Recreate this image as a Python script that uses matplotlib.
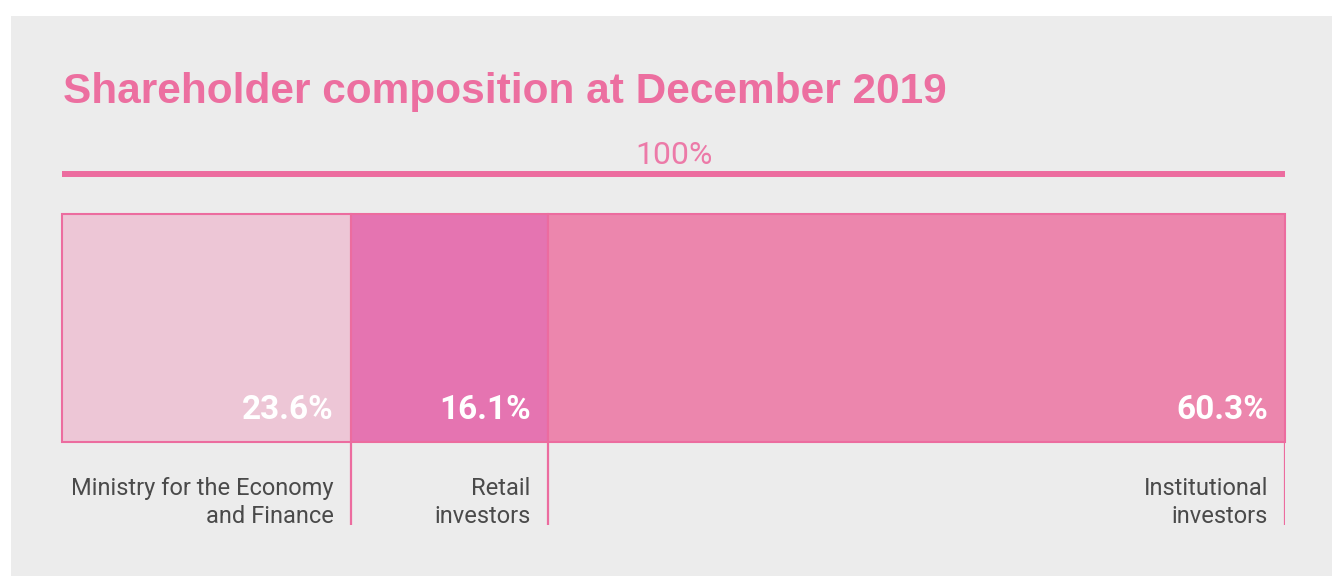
import matplotlib
matplotlib.use("Agg")
import matplotlib.pyplot as plt
from matplotlib.patches import Rectangle
from matplotlib.transforms import offset_copy
import numpy as np

# data
groups = ["Ministry for the Economy\nand Finance", "Retail\ninvestors", "Institutional\ninvestors"]
shares = [23.6, 16.1, 60.3]
total_label = "100%"
title = "Shareholder composition at December 2019"

# colours
bg = "#ececec"
pink_line = "#ec6c9f"
seg_colors = ["#edc6d6", "#e574b1", "#ec86ad"]
W, H = 1332, 576

fig = plt.figure(figsize=(W / 100, H / 100), dpi=100, facecolor="white")
fig.patches.append(Rectangle((11 / W, 0), 1, 1 - 16 / H, transform=fig.transFigure,
                             facecolor=bg, edgecolor="none", zorder=-5))

fig.text(63 / W, 1 - 103 / H, title, ha="left", va="baseline", fontsize=30.5,
         fontweight="bold", color="#ec6fa0", family="Liberation Sans")

# bar axes: x 62..1285 px, y 214..525 px
ax = fig.add_axes([62 / W, 1 - 525 / H, (1285 - 62) / W, (525 - 214) / H])
ax.set_facecolor("none")
ybot = -0.5 - (525 - 442) / 228
ax.set_xlim(0, 100)
ax.set_ylim(ybot, 0.5)
ax.axis("off")

shares = np.array(shares)
lefts = np.concatenate([[0], np.cumsum(shares)[:-1]])
rights = lefts + shares

ax.barh(0, shares, left=lefts, height=1, color=seg_colors, edgecolor=pink_line,
        linewidth=1.5, clip_on=False, zorder=2)
ax.vlines(rights, ybot, -0.5, color=pink_line, lw=1.6, zorder=3)

# total line + label
ytop = 0.5 + (214 - 174) / 228
ax.plot([0, 100], [ytop, ytop], color=pink_line, lw=4.3, solid_capstyle="butt", clip_on=False)
ax.text(50, 0.5 + (214 - 164) / 228, total_label, ha="center", va="baseline",
        fontsize=23, color="#ec7aa8", family="Roboto")

shift = offset_copy(ax.transData, fig=fig, x=-17, y=0, units="dots")
for r, v, g in zip(rights, shares, groups):
    ax.text(r, 0.5 - (419 - 214) / 228, f"{v:.1f}%", transform=shift, ha="right",
            va="baseline", fontsize=24, fontweight="bold", color="white", family="Roboto")
    # multi-line baseline alignment uses the last line
    ax.text(r, 0.5 - (523 - 214) / 228, g, transform=shift, ha="right", va="baseline",
            multialignment="right", linespacing=1.3, fontsize=17, color="#4a4a4a",
            family="Roboto")

fig.savefig("out.png", dpi=100, facecolor=fig.get_facecolor())
